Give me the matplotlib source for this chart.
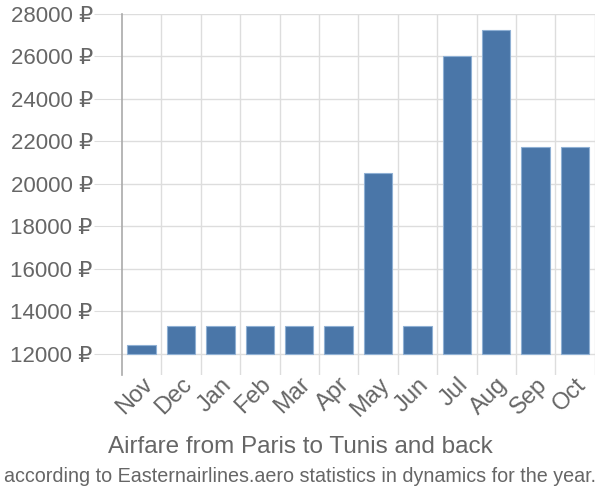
import matplotlib
matplotlib.use("Agg")
import matplotlib.pyplot as plt

plt.rcParams['font.family'] = ['Liberation Sans', 'DejaVu Sans']

months = ["Nov", "Dec", "Jan", "Feb", "Mar", "Apr", "May", "Jun", "Jul", "Aug", "Sep", "Oct"]
prices = [12400, 13300, 13300, 13300, 13300, 13300, 20500, 13300, 26000, 27250, 21740, 21740]
yticks = [12000, 14000, 16000, 18000, 20000, 22000, 24000, 26000, 28000]

fig = plt.figure(figsize=(6, 5), dpi=100)
ax = fig.add_axes([0.2033, 0.25, 0.788, 0.722])

x = list(range(len(months)))
ax.bar(x, [p - 12000 for p in prices], bottom=12000, width=0.72,
       color="#4a76a8", edgecolor="#8fb0d4", linewidth=0.8, zorder=3)

ax.set_xlim(-0.5, len(months) - 0.5)
ax.set_ylim(11000, 28000)

ax.set_yticks(yticks)
ax.set_yticklabels(["%d ₽" % v for v in yticks])
ax.set_xticks(x)
ax.set_xticklabels(months, rotation=45, ha="right", rotation_mode="anchor")

# vertical grid at category boundaries
for b in range(1, len(months) + 1):
    ax.axvline(b - 0.5, color="#dddddd", linewidth=1, zorder=1)
ax.yaxis.grid(True, color="#dddddd", linewidth=1, zorder=1)
ax.set_axisbelow(True)

for s in ["top", "right", "bottom"]:
    ax.spines[s].set_visible(False)
ax.spines["left"].set_color("#aaaaaa")
ax.spines["left"].set_linewidth(1.2)

ax.tick_params(axis="y", length=20, color="#dddddd", labelsize=16, labelcolor="#666666", pad=1)
ax.tick_params(axis="x", length=0, labelsize=17, labelcolor="#666666", pad=-1)

fig.text(0.5, 0.106, "Airfare from Paris to Tunis and back", ha="center", va="center",
         fontsize=17.5, color="#666666")
fig.text(0.5, 0.046, "according to Easternairlines.aero statistics in dynamics for the year.",
         ha="center", va="center", fontsize=14.2, color="#666666")

fig.savefig("out.png", dpi=100)
